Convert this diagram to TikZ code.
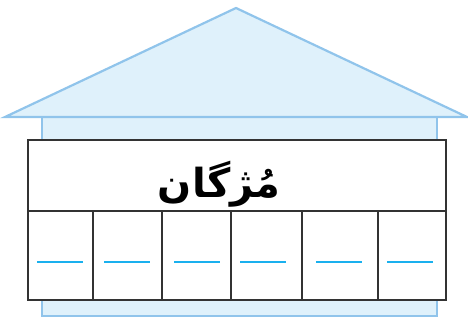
\documentclass[tikz,border=0pt]{standalone}
\usepackage{fontspec}
\newfontfamily\arabicfont[Script=Arabic]{DejaVu Sans}
\TeXXeTstate=1
\definecolor{roofline}{HTML}{90C4EB}
\definecolor{rooffill}{HTML}{DFF1FB}
\definecolor{tableline}{HTML}{333333}
\definecolor{dashblue}{HTML}{1AB0EE}
\tikzset{
  roofstyle/.style={draw=roofline, fill=rooffill, line width=2.2pt, line join=miter},
  tablestyle/.style={draw=tableline, line width=2.2pt},
  blank/.style={draw=dashblue, line width=1.8pt},
  cell/.style={draw=none, inner sep=0pt},
}
\begin{document}
\begin{tikzpicture}[x=1pt,y=-1pt]
\useasboundingbox (0,0) rectangle (468,320);
% wall
\fill[rooffill] (42,116) rectangle (437,316);
\draw[roofstyle, fill=none] (42,116) -- (42,316) -- (437,316) -- (437,116);
% roof
\draw[roofstyle] (5,117) -- (236,8) -- (467,117) -- cycle;
% table
\fill[white] (28,140) rectangle (446,300);
\draw[tablestyle] (28,140) rectangle (446,300);
\draw[tablestyle] (28,211) -- (446,211);
\foreach \x in {93,162,231,302,378}{
  \draw[tablestyle] (\x,211) -- (\x,300);
}
\node[cell] (word) at (219,184) {\arabicfont\fontsize{40}{48}\selectfont\bfseries\beginR مُژگان\endR};
% blanks
\foreach \a/\b in {37/83,104/150,174/220,240/286,316/362,387/433}{
  \coordinate (l\a) at (\a,262);
  \coordinate (r\a) at (\b,262);
  \draw[blank] (l\a) -- (r\a);
}
\end{tikzpicture}
\end{document}
